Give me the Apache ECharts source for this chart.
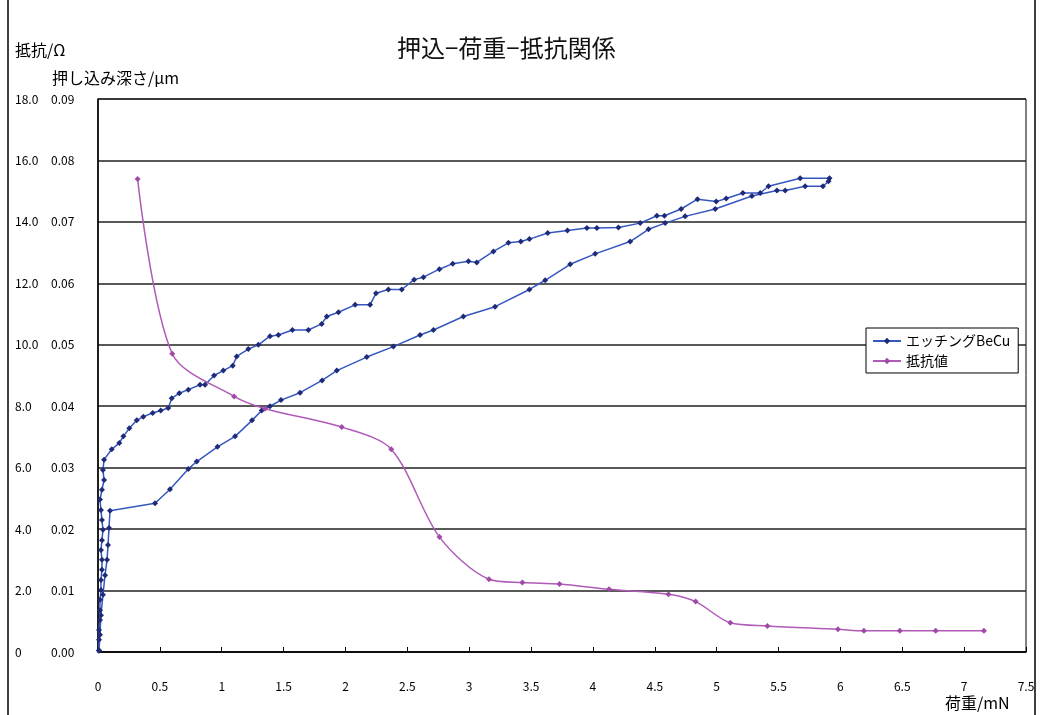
<!DOCTYPE html>
<html>
<head>
<meta charset="utf-8">
<script src="https://cdn.jsdelivr.net/npm/echarts@6/dist/echarts.min.js"></script>
<style>
  html, body { margin: 0; padding: 0; background: #fff; }
  #chartBox { width: 1040px; height: 715px; }
</style>
</head>
<body>
<div id="chartBox"></div>
<script>
// エッチングBeCu: 荷重 (mN) と 押し込み深さ (μm)、負荷→除荷の順
const beCuLoad = [
  0.008, 0.008, 0.008, 0.016, 0.016, 0.016, 0.024, 0.024, 0.032, 0.032,
  0.024, 0.032, 0.040, 0.032, 0.024, 0.016, 0.032, 0.049, 0.040, 0.049,
  0.111, 0.172, 0.205, 0.253, 0.313, 0.366, 0.442, 0.507, 0.568, 0.596,
  0.657, 0.730, 0.825, 0.865, 0.938, 1.013, 1.089, 1.121, 1.215, 1.296,
  1.390, 1.458, 1.571, 1.700, 1.808, 1.849, 1.943, 2.078, 2.199, 2.247,
  2.347, 2.455, 2.555, 2.630, 2.759, 2.867, 2.994, 3.061, 3.196, 3.317,
  3.417, 3.487, 3.635, 3.794, 3.951, 4.032, 4.206, 4.382, 4.517, 4.578,
  4.713, 4.845, 4.996, 5.077, 5.212, 5.352, 5.419, 5.675, 5.912,
  5.904, 5.859, 5.715, 5.554, 5.487, 5.285, 4.988, 4.745, 4.584, 4.449,
  4.301, 4.018, 3.816, 3.614, 3.487, 3.209, 2.953, 2.711, 2.603, 2.387,
  2.172, 1.930, 1.811, 1.633, 1.479, 1.390, 1.323, 1.245, 1.108, 0.966,
  0.798, 0.730, 0.582, 0.461, 0.097, 0.089, 0.081, 0.073, 0.057, 0.040,
  0.024, 0.016, 0.008
];
const beCuDepth = [
  0.0003, 0.0020, 0.0036, 0.0052, 0.0068, 0.0085, 0.0101, 0.0117, 0.0134, 0.0150,
  0.0166, 0.0182, 0.0199, 0.0215, 0.0231, 0.0248, 0.0264, 0.0280, 0.0296, 0.0313,
  0.0330, 0.0340, 0.0351, 0.0364, 0.0377, 0.0383, 0.0389, 0.0393, 0.0397, 0.0413,
  0.0421, 0.0427, 0.0435, 0.0435, 0.0450, 0.0458, 0.0466, 0.0481, 0.0493, 0.0500,
  0.0514, 0.0516, 0.0524, 0.0524, 0.0534, 0.0546, 0.0553, 0.0565, 0.0565, 0.0584,
  0.0590, 0.0590, 0.0606, 0.0610, 0.0623, 0.0632, 0.0636, 0.0634, 0.0652, 0.0666,
  0.0668, 0.0672, 0.0682, 0.0686, 0.0690, 0.0690, 0.0691, 0.0698, 0.0710, 0.0710,
  0.0721, 0.0737, 0.0733, 0.0738, 0.0747, 0.0747, 0.0758, 0.0771, 0.0771,
  0.0766, 0.0758, 0.0758, 0.0751, 0.0751, 0.0742, 0.0721, 0.0709, 0.0698, 0.0688,
  0.0668, 0.0648, 0.0631, 0.0605, 0.0590, 0.0562, 0.0546, 0.0524, 0.0516, 0.0497,
  0.0480, 0.0458, 0.0442, 0.0422, 0.0410, 0.0400, 0.0393, 0.0377, 0.0351, 0.0334,
  0.0310, 0.0298, 0.0265, 0.0242, 0.0230, 0.0202, 0.0174, 0.0150, 0.0125, 0.0093,
  0.0060, 0.0028, 0.0002
];

// 抵抗値: 荷重 (mN) と 抵抗 (Ω)
const resLoad = [0.32, 0.60, 1.10, 1.35, 1.97, 2.37, 2.76, 3.16, 3.43, 3.73, 4.13, 4.61, 4.83, 5.11, 5.41, 5.98, 6.19, 6.48, 6.77, 7.16];
const resValue = [15.4, 9.71, 8.32, 7.92, 7.32, 6.60, 3.74, 2.37, 2.26, 2.21, 2.04, 1.88, 1.64, 0.95, 0.85, 0.74, 0.69, 0.69, 0.69, 0.69];

const seriesNames = ['エッチングBeCu', '抵抗値'];

const jpFont = '"Noto Sans CJK JP", sans-serif';

const myChart = echarts.init(document.getElementById('chartBox'));

const option = {
  backgroundColor: '#fff',
  animation: false,
  textStyle: { fontFamily: jpFont },
  title: {
    text: '押込−荷重−抵抗関係',
    left: 392,
    top: 31,
    textStyle: { fontFamily: jpFont, fontSize: 24, fontWeight: 'normal', color: '#111' }
  },
  legend: {
    orient: 'vertical',
    left: 866,
    top: 328,
    itemWidth: 28,
    itemHeight: 8,
    itemGap: 6,
    padding: [6, 8, 5, 6],
    borderColor: '#000',
    borderWidth: 1,
    backgroundColor: '#fff',
    textStyle: { fontFamily: jpFont, fontSize: 14, color: '#000' },
    data: seriesNames
  },
  grid: {
    left: 98,
    right: 14,
    top: 99,
    bottom: 63,
    show: true,
    borderColor: '#000',
    borderWidth: 1
  },
  xAxis: {
    type: 'value',
    min: 0,
    max: 7.5,
    interval: 0.5,
    axisLine: { lineStyle: { color: '#000', width: 1.5 } },
    axisTick: { inside: true, length: 5, lineStyle: { color: '#000' } },
    axisLabel: { color: '#000', fontSize: 12, margin: 28 },
    splitLine: { show: false }
  },
  yAxis: [
    {
      type: 'value',
      min: 0,
      max: 0.09,
      interval: 0.01,
      position: 'left',
      axisLine: { show: true, lineStyle: { color: '#000', width: 1.5 } },
      axisTick: { show: false },
      axisLabel: {
        color: '#000',
        fontSize: 12,
        align: 'left',
        margin: 47,
        formatter: v => v.toFixed(2)
      },
      splitLine: { show: true, lineStyle: { color: '#222', width: 1.5 } }
    },
    {
      type: 'value',
      min: 0,
      max: 18,
      interval: 2,
      position: 'left',
      axisLine: { show: false },
      axisTick: { show: false },
      axisLabel: {
        color: '#000',
        fontSize: 12,
        align: 'left',
        margin: 83,
        formatter: v => (v === 0 ? '0' : v.toFixed(1))
      },
      splitLine: { show: false }
    }
  ],
  graphic: [
    { type: 'line', shape: { x1: 8, y1: 0, x2: 8, y2: 715 }, style: { stroke: '#000', lineWidth: 1.5 } },
    { type: 'line', shape: { x1: 1035, y1: 0, x2: 1035, y2: 715 }, style: { stroke: '#000', lineWidth: 1.5 } },
    { type: 'text', left: 15, top: 42, style: { text: '抵抗/Ω', font: '16px ' + jpFont, fill: '#000' } },
    { type: 'text', left: 52, top: 70, style: { text: '押し込み深さ/μm', font: '16px ' + jpFont, fill: '#000' } },
    { type: 'text', left: 945, top: 695, style: { text: '荷重/mN', font: '16px ' + jpFont, fill: '#000' } }
  ],
  series: [
    {
      name: seriesNames[0],
      type: 'line',
      yAxisIndex: 0,
      symbol: 'diamond',
      symbolSize: 6,
      lineStyle: { color: '#3558c0', width: 1.5 },
      itemStyle: { color: '#1f2a78' },
      data: beCuLoad.map((x, i) => [x, beCuDepth[i]])
    },
    {
      name: seriesNames[1],
      type: 'line',
      yAxisIndex: 1,
      smooth: 0.3,
      symbol: 'diamond',
      symbolSize: 6,
      lineStyle: { color: '#b05ab8', width: 1.5 },
      itemStyle: { color: '#a04aa8' },
      data: resLoad.map((x, i) => [x, resValue[i]])
    }
  ]
};

myChart.setOption(option);
</script>
</body>
</html>
